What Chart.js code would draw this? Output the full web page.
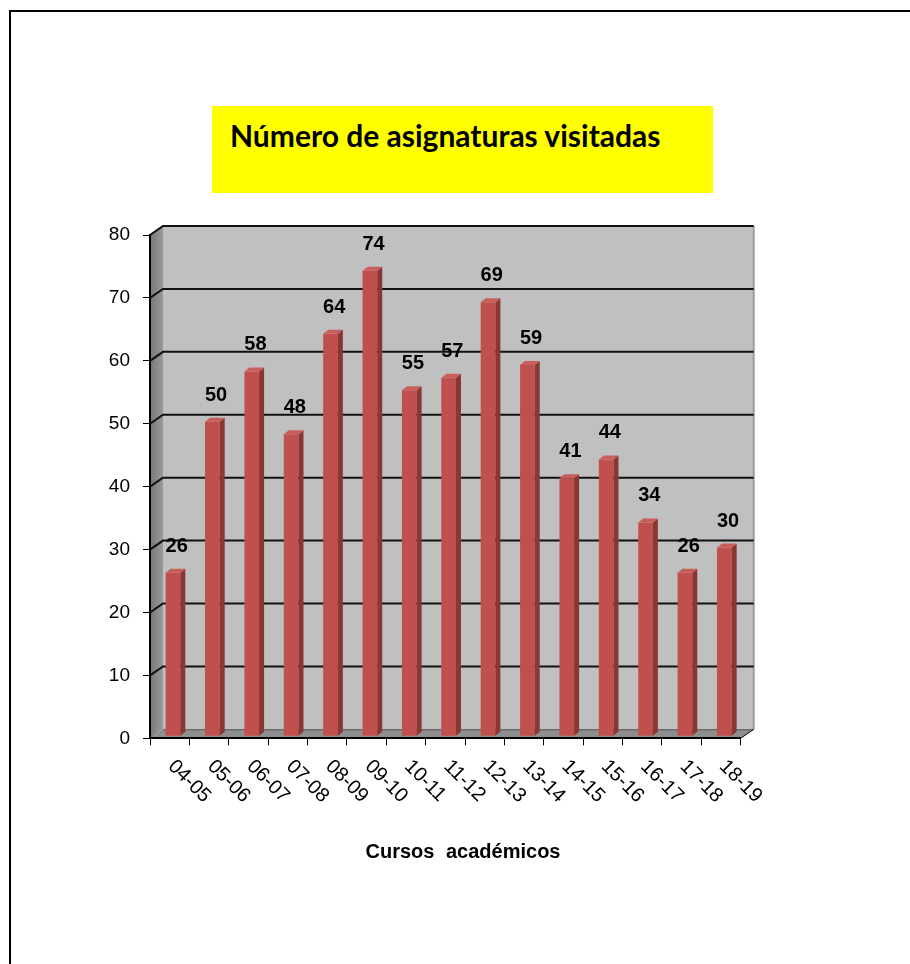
<!DOCTYPE html>
<html lang="es">
<head>
<meta charset="UTF-8">
<title>Número de asignaturas visitadas</title>
<script src="https://cdn.jsdelivr.net/npm/chart.js"></script>
<style>
    body { margin: 0; background: #fff; }
    #wrap { position: relative; width: 910px; height: 964px; overflow: hidden; }
    #chart { position: absolute; left: 0; top: 0; }
    #title { position: absolute; left: 212px; top: 106px; width: 501px; height: 87px; background: #ffff00;
             box-sizing: border-box; padding: 11px 0 0 18px; font: bold 30px/36px Lato, "Open Sans", sans-serif; color: #000; }
    #xtitle { position: absolute; left: 263px; top: 838px; width: 400px; text-align: center;
              font: bold 20px/26px "Liberation Sans", Arial, sans-serif; word-spacing: 6px; color: #000; }
</style>
</head>
<body>
<div id="wrap">
    <canvas id="chart" width="910" height="964"></canvas>
    <div id="title">Número de asignaturas visitadas</div>
    <div id="xtitle">Cursos académicos</div>
</div>
<script>
// data
const cursos = ['04-05', '05-06', '06-07', '07-08', '08-09', '09-10', '10-11', '11-12',
                '12-13', '13-14', '14-15', '15-16', '16-17', '17-18', '18-19'];
const asignaturas = [26, 50, 58, 48, 64, 74, 55, 57, 69, 59, 41, 44, 34, 26, 30];
const yMin = 0, yMax = 80, yStep = 10;

// fake 3d depth
const wallDx = 13, wallDy = -9;
const barDx = 3.3, barDy = -2;
const faceDx = 5, faceDy = -4;
const axisFont = '"Liberation Sans", Arial, sans-serif';

const walls = {
    id: 'walls',
    beforeDraw(chart) {
        const ctx = chart.ctx;
        const { left, right, top, bottom } = chart.chartArea;
        const y = chart.scales.y;
        ctx.save();
        ctx.fillStyle = '#fff';
        ctx.fillRect(0, 0, chart.width, chart.height);
        // page frame
        ctx.fillStyle = '#000';
        ctx.fillRect(9, 10, chart.width, 2);
        ctx.fillRect(9, 10, 2, chart.height);

        // back wall
        ctx.fillStyle = '#c0c0c0';
        ctx.fillRect(left + wallDx, top + wallDy, right - left, bottom - top);
        ctx.fillStyle = '#9c9c9c';
        ctx.fillRect(right + wallDx - 1, top + wallDy, 2, bottom - top);

        // side wall
        const g = ctx.createLinearGradient(left, 0, left + wallDx, 0);
        g.addColorStop(0, '#777');
        g.addColorStop(1, '#9a9a9a');
        ctx.fillStyle = g;
        ctx.beginPath();
        ctx.moveTo(left, top);
        ctx.lineTo(left + wallDx, top + wallDy);
        ctx.lineTo(left + wallDx, bottom + wallDy);
        ctx.lineTo(left, bottom);
        ctx.closePath();
        ctx.fill();

        // floor
        ctx.fillStyle = '#8e8e8e';
        ctx.beginPath();
        ctx.moveTo(left, bottom);
        ctx.lineTo(right, bottom);
        ctx.lineTo(right + wallDx, bottom + wallDy);
        ctx.lineTo(left + wallDx, bottom + wallDy);
        ctx.closePath();
        ctx.fill();
        ctx.strokeStyle = '#555';
        ctx.lineWidth = 1;
        ctx.beginPath();
        ctx.moveTo(left + wallDx, bottom + wallDy + 0.5);
        ctx.lineTo(right + wallDx, bottom + wallDy + 0.5);
        ctx.stroke();
        ctx.strokeStyle = '#000';
        ctx.beginPath();
        ctx.moveTo(right, bottom);
        ctx.lineTo(right + wallDx, bottom + wallDy);
        ctx.stroke();

        // grid lines on side + back wall
        ctx.strokeStyle = '#111';
        ctx.lineWidth = 2;
        y.ticks.forEach(t => {
            if (t.value === yMin) return;
            const yy = y.getPixelForValue(t.value);
            ctx.beginPath();
            ctx.moveTo(left, yy);
            ctx.lineTo(left + wallDx, yy + wallDy);
            ctx.lineTo(right + wallDx, yy + wallDy);
            ctx.stroke();
        });
        ctx.restore();
    },
    beforeDatasetsDraw(chart) {
        chart.ctx.save();
        chart.ctx.translate(barDx, barDy);
    },
    afterDatasetsDraw(chart) {
        const ctx = chart.ctx;
        const meta = chart.getDatasetMeta(0);
        meta.data.forEach(bar => {
            const { x, y, base, width } = bar.getProps(['x', 'y', 'base', 'width'], true);
            const l = x - width / 2, r = x + width / 2;
            // side face
            ctx.fillStyle = '#8a3634';
            ctx.beginPath();
            ctx.moveTo(r, y);
            ctx.lineTo(r + faceDx, y + faceDy);
            ctx.lineTo(r + faceDx, base + faceDy);
            ctx.lineTo(r, base);
            ctx.closePath();
            ctx.fill();
            // top face
            ctx.fillStyle = '#c85e5b';
            ctx.beginPath();
            ctx.moveTo(l, y);
            ctx.lineTo(l + faceDx, y + faceDy);
            ctx.lineTo(r + faceDx, y + faceDy);
            ctx.lineTo(r, y);
            ctx.closePath();
            ctx.fill();
        });
        ctx.restore();

        // value labels
        ctx.save();
        ctx.fillStyle = '#000';
        ctx.font = 'bold 20px ' + axisFont;
        ctx.textAlign = 'center';
        ctx.textBaseline = 'alphabetic';
        meta.data.forEach((bar, i) => {
            ctx.fillText(String(asignaturas[i]), bar.x + 7, bar.y - 23);
        });

        // rotated category labels
        const xs = chart.scales.x;
        ctx.font = '20px ' + axisFont;
        ctx.textAlign = 'left';
        ctx.textBaseline = 'middle';
        cursos.forEach((c, i) => {
            const px = xs.getPixelForTick(i);
            ctx.save();
            ctx.translate(px + 1.5, chart.chartArea.bottom + 25);
            ctx.rotate(Math.PI / 4);
            ctx.fillText(c, 0, 0);
            ctx.restore();
        });
        ctx.restore();
    }
};

new Chart(document.getElementById('chart'), {
    type: 'bar',
    data: {
        labels: cursos,
        datasets: [{
            data: asignaturas,
            backgroundColor: '#c0504d',
            borderWidth: 0,
            barPercentage: 0.373,
            categoryPercentage: 1
        }]
    },
    options: {
        responsive: false,
        animation: false,
        layout: { padding: { left: 100, right: 169.3, top: 235, bottom: 205.7 } },
        plugins: { legend: { display: false }, tooltip: { enabled: false } },
        scales: {
            x: {
                afterFit(scale) { scale.height = 20; },
                ticks: { display: false },
                grid: { drawOnChartArea: false, tickLength: 7, color: '#000', offset: true },
                border: { display: true, color: '#000', width: 2 }
            },
            y: {
                min: yMin,
                max: yMax,
                afterFit(scale) { scale.width = 50; },
                ticks: { stepSize: yStep, padding: 13, color: '#000', font: { family: axisFont, size: 19 } },
                grid: { drawOnChartArea: false, tickLength: 7, color: '#000' },
                border: { display: true, color: '#000', width: 2 }
            }
        }
    },
    plugins: [walls]
});
</script>
</body>
</html>
